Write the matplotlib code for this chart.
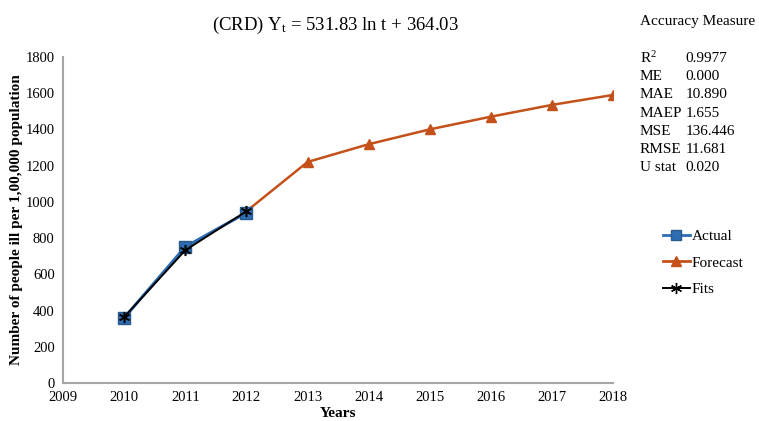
import matplotlib
matplotlib.use("Agg")
import matplotlib.pyplot as plt
from matplotlib.lines import Line2D

plt.rcParams.update({
    "font.family": "serif",
    "font.serif": ["Liberation Serif", "DejaVu Serif"],
    "mathtext.fontset": "custom",
    "mathtext.rm": "Liberation Serif",
    "mathtext.it": "Liberation Serif:italic",
})

# ── data ──────────────────────────────────────────────────────────────
actual_years = [2010, 2011, 2012]
actual_vals = [360, 752, 940]

fit_years = [2010, 2011, 2012]
fit_vals = [364, 733, 948]

forecast_years = [2012, 2013, 2014, 2015, 2016, 2017, 2018]
forecast_vals = [948, 1220, 1318, 1400, 1470, 1535, 1590]

measure_names = ["R$^2$", "ME", "MAE", "MAEP", "MSE", "RMSE", "U stat"]
measure_vals = ["0.9977", "0.000", "10.890", "1.655", "136.446", "11.681", "0.020"]

BLUE = "#2E6DB4"
ORANGE = "#C4501A"
GREY = "#A6A6A6"
ASTERISK = (6, 2, 0)

fig = plt.figure(figsize=(7.59, 4.21), dpi=100)
ax = fig.add_axes([0.083, 0.090, 0.725, 0.775])

ax.plot(forecast_years, forecast_vals, color=ORANGE, lw=1.8, marker="^",
        ms=7, markeredgecolor=ORANGE, label="Forecast", zorder=2)
ax.plot(actual_years, actual_vals, color=BLUE, lw=2.2, marker="s",
        ms=8.5, markeredgecolor="#2A5A8A", label="Actual", zorder=3)
ax.plot(fit_years, fit_vals, color="black", lw=1.4, marker=ASTERISK,
        ms=8, markeredgewidth=1.1, label="Fits", zorder=4)

ax.set_xlim(2009, 2018)
ax.set_ylim(0, 1800)
ax.set_xticks(range(2009, 2019))
ax.set_yticks(range(0, 1801, 200))
ax.tick_params(length=0, labelsize=10.5, pad=6)
for s in ["top", "right"]:
    ax.spines[s].set_visible(False)
for s in ["left", "bottom"]:
    ax.spines[s].set_color(GREY)
    ax.spines[s].set_linewidth(1.5)

ax.set_xlabel("Years", fontsize=11, fontweight="bold", labelpad=2)
ax.set_ylabel("Number of people ill per 1,00,000 population", fontsize=11,
              fontweight="bold", labelpad=2)

fig.text(0.442, 0.94, r"(CRD) Y$_\mathrm{t}$ = 531.83 ln t + 364.03",
         ha="center", va="center", fontsize=13.5)

# accuracy table
fig.text(0.843, 0.948, "Accuracy Measure", fontsize=11, va="center")
row_y0 = 0.862
for i, (n, v) in enumerate(zip(measure_names, measure_vals)):
    y = row_y0 - i * 0.0435
    fig.text(0.843, y, n, fontsize=11, va="center")
    fig.text(0.903, y, v, fontsize=11, va="center")

handles = [
    Line2D([], [], color=BLUE, lw=2, marker="s", ms=7, markeredgecolor="#2A5A8A"),
    Line2D([], [], color=ORANGE, lw=2, marker="^", ms=7),
    Line2D([], [], color="black", lw=1.4, marker=ASTERISK, ms=8),
]
fig.legend(handles, ["Actual", "Forecast", "Fits"], loc="center left",
           bbox_to_anchor=(0.855, 0.376), frameon=False, fontsize=11,
           handlelength=1.8, handletextpad=0.1, labelspacing=0.85)

fig.savefig("out.png", dpi=100)
